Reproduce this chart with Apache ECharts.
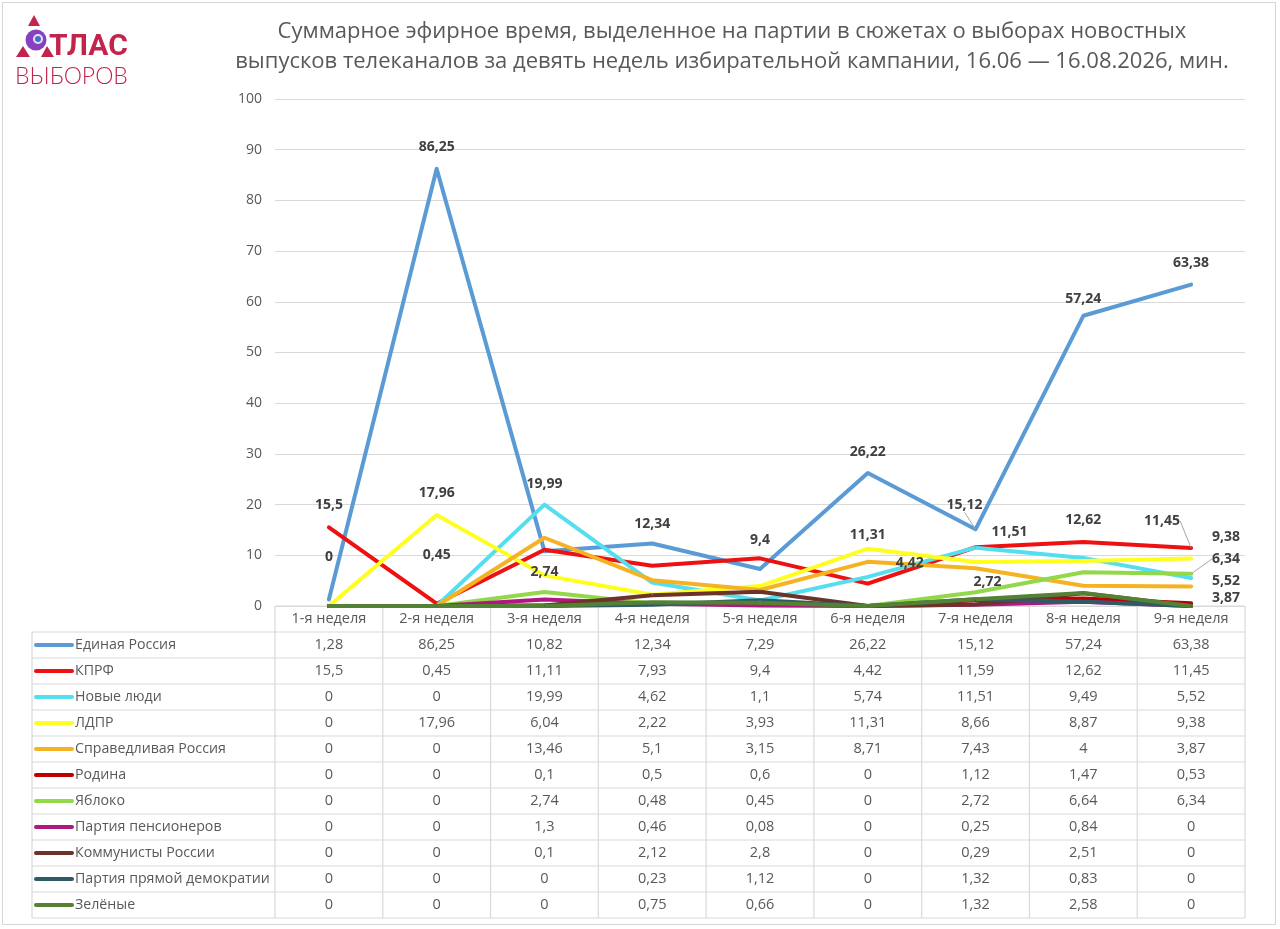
<!DOCTYPE html>
<html>
<head>
<meta charset="utf-8">
<title>Эфирное время партий</title>
<script src="https://cdn.jsdelivr.net/npm/echarts@6/dist/echarts.min.js"></script>
<style>
    html, body { margin: 0; padding: 0; background: #fff; }
    #frame { position: absolute; left: 2px; top: 2px; width: 1274px; height: 923px;
             border: 1px solid #d6d6d6; box-sizing: border-box; }
    #chart { position: absolute; left: 0; top: 0; width: 1280px; height: 929px; }
</style>
</head>
<body>
<div id="frame"></div>
<div id="chart"></div>
<script>
// недели
var categories = ['1-я неделя', '2-я неделя', '3-я неделя', '4-я неделя', '5-я неделя',
                  '6-я неделя', '7-я неделя', '8-я неделя', '9-я неделя'];

// минуты по партиям
var edinayaRossiya = [1.28, 86.25, 10.82, 12.34, 7.29, 26.22, 15.12, 57.24, 63.38];
var kprf           = [15.5, 0.45, 11.11, 7.93, 9.4, 4.42, 11.59, 12.62, 11.45];
var novyeLyudi     = [0, 0, 19.99, 4.62, 1.1, 5.74, 11.51, 9.49, 5.52];
var ldpr           = [0, 17.96, 6.04, 2.22, 3.93, 11.31, 8.66, 8.87, 9.38];
var spravRossiya   = [0, 0, 13.46, 5.1, 3.15, 8.71, 7.43, 4, 3.87];
var rodina         = [0, 0, 0.1, 0.5, 0.6, 0, 1.12, 1.47, 0.53];
var yabloko        = [0, 0, 2.74, 0.48, 0.45, 0, 2.72, 6.64, 6.34];
var pensionery     = [0, 0, 1.3, 0.46, 0.08, 0, 0.25, 0.84, 0];
var kommunisty     = [0, 0, 0.1, 2.12, 2.8, 0, 0.29, 2.51, 0];
var pryamayaDem    = [0, 0, 0, 0.23, 1.12, 0, 1.32, 0.83, 0];
var zelenye        = [0, 0, 0, 0.75, 0.66, 0, 1.32, 2.58, 0];

var partyNames = ['Единая Россия', 'КПРФ', 'Новые люди', 'ЛДПР', 'Справедливая Россия', 'Родина',
                  'Яблоко', 'Партия пенсионеров', 'Коммунисты России', 'Партия прямой демократии', 'Зелёные'];
var partyValues = [edinayaRossiya, kprf, novyeLyudi, ldpr, spravRossiya, rodina,
                   yabloko, pensionery, kommunisty, pryamayaDem, zelenye];

// ось Y
var yMin = 0, yMax = 100, yStep = 10;

// --- оформление ---
var partyColors = ['#5b9bd5', '#ee1111', '#55dfee', '#ffff1f', '#f5b324', '#c00000',
                   '#92d84a', '#b0187f', '#6b3329', '#2f5b66', '#548235'];

// какие подписи показаны: [серия, точка, dx, dy, выноска]
var labelMarks = [
    [0, 1, 0, -22], [0, 3, 0, -19], [0, 5, 0, -21], [0, 6, -11, -24, true], [0, 7, 0, -17], [0, 8, 0, -22],
    [1, 0, 0, -22], [1, 1, 0, -49], [1, 4, 0, -18], [1, 5, 42, -21], [1, 7, 0, -22], [1, 8, -29, -27, true],
    [2, 2, 0, -21], [2, 6, 34, -16], [2, 8, 35, 3],
    [3, 0, 0, -49], [3, 1, 0, -22], [3, 5, 0, -14], [3, 8, 35, -21],
    [4, 8, 35, 12],
    [6, 2, 0, -20], [6, 6, 12, -10], [6, 8, 35, -15, true]
];

var gridLeft = 275, gridRight = 1245, gridTop = 99, gridBottom = 606;
var tableLeft = 32, rowH = 26;
var txtColor = '#595959';
var lineColor = '#d9d9d9';
var fontFam = '"Open Sans", "Noto Sans", sans-serif';

function fmt(v) { return String(v).replace('.', ','); }

function findMark(s, i) {
    for (var k = 0; k < labelMarks.length; k++) {
        if (labelMarks[k][0] === s && labelMarks[k][1] === i) return labelMarks[k];
    }
    return null;
}

var series = partyValues.map(function (vals, s) {
    return {
        name: partyNames[s],
        type: 'line',
        symbol: 'circle',
        symbolSize: 1,
        showSymbol: true,
        lineStyle: { width: 4, color: partyColors[s], cap: 'round', join: 'round' },
        itemStyle: { color: partyColors[s] },
        emphasis: { disabled: true },
        label: {
            show: false,
            position: 'inside',
            fontFamily: fontFam,
            fontSize: 14,
            fontWeight: 'bold',
            color: '#404040',
            formatter: function (p) { return fmt(p.value); }
        },
        labelLine: { show: false, lineStyle: { color: '#a6a6a6', width: 1 }, length2: 0 },
        labelLayout: function (p) {
            var m = findMark(p.seriesIndex, p.dataIndex);
            return m ? { dx: m[2], dy: m[3] } : {};
        },
        data: vals.map(function (v, i) {
            var m = findMark(s, i);
            var item = { value: v };
            if (m) {
                item.label = { show: true };
                if (m[4]) item.labelLine = { show: true };
            }
            return item;
        })
    };
});

var chart = echarts.init(document.getElementById('chart'));

var option = {
    animation: false,
    backgroundColor: 'transparent',
    textStyle: { fontFamily: fontFam },
    grid: { left: gridLeft, right: 1280 - gridRight, top: gridTop, bottom: 929 - gridBottom, containLabel: false },
    xAxis: {
        type: 'category',
        data: categories,
        boundaryGap: true,
        axisLine: { show: false },
        axisTick: { show: false },
        axisLabel: { show: false }
    },
    yAxis: {
        type: 'value',
        min: yMin,
        max: yMax,
        interval: yStep,
        axisLine: { show: false },
        axisTick: { show: false },
        axisLabel: { color: txtColor, fontSize: 14, fontFamily: fontFam, margin: 13 },
        splitLine: { lineStyle: { color: lineColor, width: 1 } }
    },
    series: series
};
chart.setOption(option);

// таблица данных и шапка
var g = [];
var colX = [];
for (var c = 0; c <= categories.length; c++) colX.push(gridLeft + c * (gridRight - gridLeft) / categories.length);
var tableBottom = gridBottom + rowH * (partyNames.length + 1);

function hline(x1, x2, y) {
    g.push({ type: 'line', silent: true, shape: { x1: x1, y1: y, x2: x2, y2: y },
             style: { stroke: lineColor, lineWidth: 1.2 } });
}
function vline(x, y1, y2) {
    g.push({ type: 'line', silent: true, shape: { x1: x, y1: y1, x2: x, y2: y2 },
             style: { stroke: lineColor, lineWidth: 1.2 } });
}
function cellText(t, x, y, align, size) {
    g.push({ type: 'text', silent: true, x: x, y: y,
             style: { text: t, fill: txtColor, font: (size || 14.5) + 'px ' + fontFam,
                      align: align || 'center', verticalAlign: 'middle' } });
}

hline(gridLeft, gridRight, gridBottom);
for (var r = 1; r <= partyNames.length + 1; r++) hline(tableLeft, gridRight, gridBottom + r * rowH);
vline(tableLeft, gridBottom + rowH, tableBottom);
colX.forEach(function (x) { vline(x, gridBottom, tableBottom); });

categories.forEach(function (cat, i) {
    var cx = chart.convertToPixel({ xAxisIndex: 0 }, i);
    cellText(cat, cx, gridBottom + rowH / 2);
    partyValues.forEach(function (vals, s) {
        cellText(fmt(vals[i]), cx, gridBottom + rowH * (s + 1.5));
    });
});
partyNames.forEach(function (name, s) {
    var y = gridBottom + rowH * (s + 1.5);
    g.push({ type: 'line', silent: true, shape: { x1: 36, y1: y, x2: 72, y2: y },
             style: { stroke: partyColors[s], lineWidth: 4, lineCap: 'round' } });
    cellText(name, 75, y, 'left', 14.2);
});

// заголовок
g.push({ type: 'text', silent: true, x: 732, y: 32,
         style: { text: 'Суммарное эфирное время, выделенное на партии в сюжетах о выборах новостных',
                  fill: txtColor, font: '22px ' + fontFam, align: 'center', verticalAlign: 'middle' } });
g.push({ type: 'text', silent: true, x: 732, y: 62,
         style: { text: 'выпусков телеканалов за девять недель избирательной кампании, 16.06 — 16.08.2026, мин.',
                  fill: txtColor, font: '22px ' + fontFam, align: 'center', verticalAlign: 'middle' } });

// логотип
var logoRed = '#c3244b';
g.push({ type: 'polygon', silent: true, shape: { points: [[34, 15], [28, 26], [40, 26]] }, style: { fill: logoRed } });
g.push({ type: 'polygon', silent: true, shape: { points: [[23, 46], [16, 57], [30, 57]] }, style: { fill: logoRed } });
g.push({ type: 'polygon', silent: true, shape: { points: [[47, 46], [41, 57], [54, 57]] }, style: { fill: logoRed } });
g.push({ type: 'circle', silent: true, shape: { cx: 36, cy: 40, r: 10.5 }, style: { fill: '#8640c0' } });
g.push({ type: 'circle', silent: true, shape: { cx: 38, cy: 39, r: 5 }, style: { fill: '#e8e0f4' } });
g.push({ type: 'circle', silent: true, shape: { cx: 38, cy: 39, r: 3 }, style: { fill: '#3f6fd0' } });
g.push({ type: 'text', silent: true, x: 49, y: 47,
         style: { text: 'ТЛАС', fill: logoRed, font: 'bold 30px "Roboto", sans-serif', verticalAlign: 'middle' } });
g.push({ type: 'text', silent: true, x: 15, y: 77,
         style: { text: 'ВЫБОРОВ', fill: logoRed, font: '300 23px "Lato", sans-serif', verticalAlign: 'middle' } });

chart.setOption({ graphic: { elements: g } });
</script>
</body>
</html>
